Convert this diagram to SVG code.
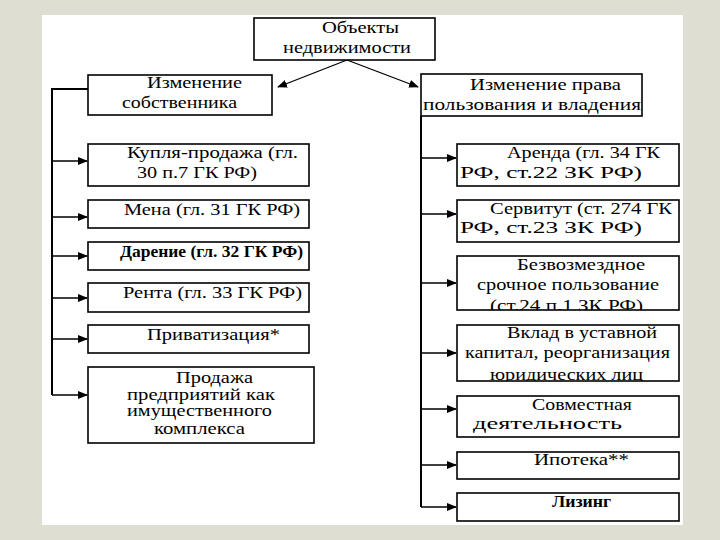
<svg xmlns="http://www.w3.org/2000/svg" width="720" height="540" viewBox="0 0 720 540">
<defs>
<style>
.box{fill:#fff;stroke:#000;stroke-width:1.6}
.bg{fill:#fff;stroke:none}
.t{font-family:'Liberation Serif','DejaVu Serif',serif;font-size:16px;fill:#000}
.c{stroke:#000;stroke-width:1.3;fill:none}
.trunk{stroke:#000;stroke-width:2;fill:none}
</style>
<marker id="ah" markerWidth="10" markerHeight="8" refX="9" refY="4" orient="auto" markerUnits="userSpaceOnUse">
<path d="M0,0 L10,4 L0,8 Z" fill="#000"/>
</marker>
<clipPath id="clipB"><rect x="457" y="256" width="222" height="54"/></clipPath>
<clipPath id="clipV"><rect x="457" y="325" width="222" height="56"/></clipPath>
</defs>
<rect x="0" y="0" width="720" height="540" fill="#deded2"/>
<rect x="42" y="15" width="641" height="510" fill="#fff"/>

<g id="connectors">
<path class="c" d="M347,60 L278,87" marker-end="url(#ah)"/>
<path class="c" d="M347,60 L418,87" marker-end="url(#ah)"/>
<path class="trunk" d="M88,89 H52 V395"/>
<path class="trunk" d="M421,116 V507"/>
<path class="c" d="M52,161 H87" marker-end="url(#ah)"/>
<path class="c" d="M52,217 H87" marker-end="url(#ah)"/>
<path class="c" d="M52,256 H87" marker-end="url(#ah)"/>
<path class="c" d="M52,298 H87" marker-end="url(#ah)"/>
<path class="c" d="M52,339 H87" marker-end="url(#ah)"/>
<path class="c" d="M52,395 H87" marker-end="url(#ah)"/>
<path class="c" d="M421,158 H456" marker-end="url(#ah)"/>
<path class="c" d="M421,214 H456" marker-end="url(#ah)"/>
<path class="c" d="M421,283 H456" marker-end="url(#ah)"/>
<path class="c" d="M421,353 H456" marker-end="url(#ah)"/>
<path class="c" d="M421,409 H456" marker-end="url(#ah)"/>
<path class="c" d="M421,465 H456" marker-end="url(#ah)"/>
<path class="c" d="M421,507 H456" marker-end="url(#ah)"/>
</g>

<g id="n-root">
<rect class="box" x="254" y="18" width="181" height="42"/>
<text class="t" x="322" y="33" textLength="77" lengthAdjust="spacingAndGlyphs">Объекты</text>
<text class="t" x="283" y="53" textLength="128" lengthAdjust="spacingAndGlyphs">недвижимости</text>
</g>

<g id="n-owner">
<rect class="box" x="88" y="75" width="184" height="40"/>
<text class="t" x="147" y="88" textLength="95" lengthAdjust="spacingAndGlyphs">Изменение</text>
<text class="t" x="122" y="108" textLength="115" lengthAdjust="spacingAndGlyphs">собственника</text>
</g>

<g id="n-use">
<rect class="box" x="421" y="74" width="221" height="42"/>
<text class="t" x="470" y="90" textLength="151" lengthAdjust="spacingAndGlyphs">Изменение права</text>
<text class="t" x="423" y="110" textLength="218" lengthAdjust="spacingAndGlyphs">пользования и владения</text>
</g>

<g id="n-kuplya">
<rect class="box" x="88" y="144" width="221" height="42"/>
<text class="t" x="127" y="158" textLength="171" lengthAdjust="spacingAndGlyphs">Купля-продажа (гл.</text>
<text class="t" x="137" y="178" textLength="120" lengthAdjust="spacingAndGlyphs">30 п.7 ГК РФ)</text>
</g>

<g id="n-mena">
<rect class="box" x="88" y="200" width="221" height="28"/>
<text class="t" x="124" y="215" textLength="176" lengthAdjust="spacingAndGlyphs">Мена (гл. 31 ГК РФ)</text>
</g>

<g id="n-darenie">
<rect class="box" x="88" y="242" width="221" height="28" stroke-width="2"/>
<text class="t" x="120" y="257" textLength="183" lengthAdjust="spacingAndGlyphs" font-weight="bold">Дарение (гл. 32 ГК РФ)</text>
</g>

<g id="n-renta">
<rect class="box" x="88" y="283" width="221" height="29"/>
<text class="t" x="123" y="298" textLength="179" lengthAdjust="spacingAndGlyphs">Рента (гл. 33 ГК РФ)</text>
</g>

<g id="n-privat">
<rect class="box" x="88" y="325" width="221" height="28"/>
<text class="t" x="147" y="340" textLength="133" lengthAdjust="spacingAndGlyphs">Приватизация*</text>
</g>

<g id="n-prodazha">
<rect class="box" x="88" y="367" width="226" height="76"/>
<text class="t" x="176" y="383" textLength="77" lengthAdjust="spacingAndGlyphs">Продажа</text>
<text class="t" x="127" y="400" textLength="148" lengthAdjust="spacingAndGlyphs">предприятий как</text>
<text class="t" x="127" y="416" textLength="145" lengthAdjust="spacingAndGlyphs">имущественного</text>
<text class="t" x="154" y="434" textLength="91" lengthAdjust="spacingAndGlyphs">комплекса</text>
</g>

<g id="n-arenda">
<rect class="box" x="457" y="144" width="222" height="42"/>
<text class="t" x="507" y="158" textLength="153" lengthAdjust="spacingAndGlyphs">Аренда (гл. 34 ГК</text>
<text class="t" x="460" y="178" textLength="182" lengthAdjust="spacingAndGlyphs">РФ, ст.22 ЗК РФ)</text>
</g>

<g id="n-servitut">
<rect class="box" x="457" y="200" width="222" height="42"/>
<text class="t" x="490" y="214" textLength="182" lengthAdjust="spacingAndGlyphs">Сервитут (ст. 274 ГК</text>
<text class="t" x="460" y="233" textLength="182" lengthAdjust="spacingAndGlyphs">РФ, ст.23 ЗК РФ)</text>
</g>

<g id="n-bezvozm">
<rect class="bg" x="457" y="256" width="222" height="54"/>
<g clip-path="url(#clipB)">
<text class="t" x="517" y="270" textLength="128" lengthAdjust="spacingAndGlyphs">Безвозмездное</text>
<text class="t" x="477" y="290" textLength="182" lengthAdjust="spacingAndGlyphs">срочное пользование</text>
<text class="t" x="490" y="311" textLength="153" lengthAdjust="spacingAndGlyphs">(ст.24 п.1 ЗК РФ)</text>
</g>
<rect x="457" y="256" width="222" height="54" fill="none" stroke="#000" stroke-width="1.6"/>
</g>

<g id="n-vklad">
<rect class="bg" x="457" y="325" width="222" height="56"/>
<g clip-path="url(#clipV)">
<text class="t" x="507" y="338" textLength="150" lengthAdjust="spacingAndGlyphs">Вклад в уставной</text>
<text class="t" x="465" y="358" textLength="205" lengthAdjust="spacingAndGlyphs">капитал, реорганизация</text>
<text class="t" x="490" y="380" textLength="153" lengthAdjust="spacingAndGlyphs">юридических лиц</text>
</g>
<rect x="457" y="325" width="222" height="56" fill="none" stroke="#000" stroke-width="1.6"/>
</g>

<g id="n-sovm">
<rect class="box" x="457" y="396" width="222" height="41"/>
<text class="t" x="532" y="410" textLength="100" lengthAdjust="spacingAndGlyphs">Совместная</text>
<text class="t" x="473" y="429" textLength="149" lengthAdjust="spacingAndGlyphs">деятельность</text>
</g>

<g id="n-ipoteka">
<rect class="box" x="457" y="452" width="222" height="27"/>
<text class="t" x="534" y="465" textLength="95" lengthAdjust="spacingAndGlyphs">Ипотека**</text>
</g>

<g id="n-lizing">
<rect class="box" x="457" y="493" width="222" height="28" stroke-width="2"/>
<text class="t" x="552" y="507" textLength="59" lengthAdjust="spacingAndGlyphs" font-weight="bold">Лизинг</text>
</g>
</svg>
